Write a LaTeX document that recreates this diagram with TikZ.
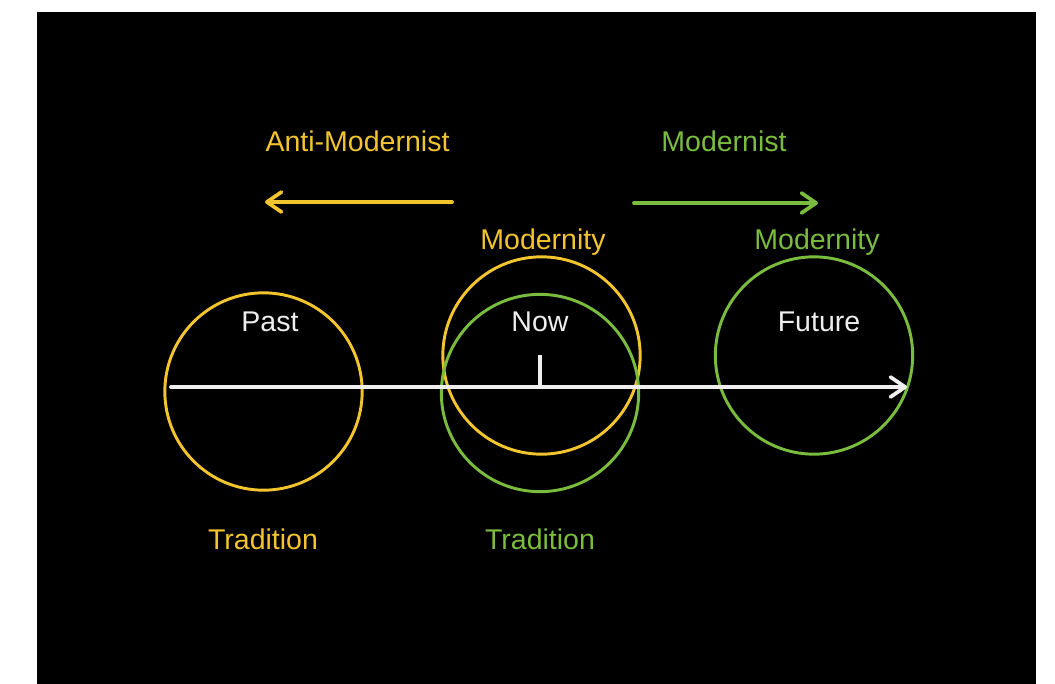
\documentclass[tikz,border=0pt]{standalone}
\usepackage{fontspec}
\setmainfont{Liberation Sans}
\usetikzlibrary{arrows.meta}
\definecolor{tradyellow}{RGB}{242,196,46}
\definecolor{modgreen}{RGB}{122,188,62}
\definecolor{axiswhite}{RGB}{238,238,238}
\begin{document}
\begin{tikzpicture}[x=0.75pt,y=-0.75pt,
  lbl/.style={font=\fontsize{21.4pt}{24pt}\selectfont, anchor=base, inner sep=0pt},
  ring/.style={circle, draw, line width=2.2pt, minimum size=148pt, inner sep=0pt, outer sep=0pt},
  barb/.style={line width=2.8pt, line cap=round, line join=round,
    -{Straight Barb[length=11pt,width=15pt,line cap=round,line join=round]}}]
  % page and slide background
  \useasboundingbox (0,0) rectangle (1055,684);
  \fill[white] (0,0) rectangle (1055,684);
  \fill[black] (37,12) rectangle (1036,684);

  % circles
  \node[ring, draw=tradyellow] (past) at (263.5,391.5) {};
  \node[ring, draw=tradyellow] (nowmod) at (541.5,355.5) {};
  \node[ring, draw=modgreen] (nowtrad) at (540,393) {};
  \node[ring, draw=modgreen] (future) at (814,355.5) {};

  % time axis with the "now" tick
  \coordinate (axstart) at (171,387);
  \coordinate (axend) at (907,387);
  \coordinate (ticktop) at (540,355);
  \coordinate (tickbase) at (540,387);
  \draw[barb, draw=axiswhite] (axstart) -- (axend);
  \draw[axiswhite, line width=2.8pt] (tickbase) -- (ticktop);

  % direction arrows
  \coordinate (antistart) at (452,202);
  \coordinate (antiend) at (265,202);
  \coordinate (modstart) at (634,203);
  \coordinate (modend) at (818,203);
  \draw[barb, draw=tradyellow] (antistart) -- (antiend);
  \draw[barb, draw=modgreen] (modstart) -- (modend);

  % labels
  \node[lbl, text=tradyellow] (antimod) at (357.5,152) {Anti-Modernist};
  \node[lbl, text=modgreen] (modernist) at (724,152) {Modernist};
  \node[lbl, text=tradyellow] (modern1) at (543,249) {Modernity};
  \node[lbl, text=modgreen] (modern2) at (817,249) {Modernity};
  \node[lbl, text=axiswhite] (pastlbl) at (270,331) {Past};
  \node[lbl, text=axiswhite] (nowlbl) at (540,331) {Now};
  \node[lbl, text=axiswhite] (futurelbl) at (819,331) {Future};
  \node[lbl, text=tradyellow] (trad1) at (263,549) {Tradition};
  \node[lbl, text=modgreen] (trad2) at (540,549) {Tradition};
\end{tikzpicture}
\end{document}
